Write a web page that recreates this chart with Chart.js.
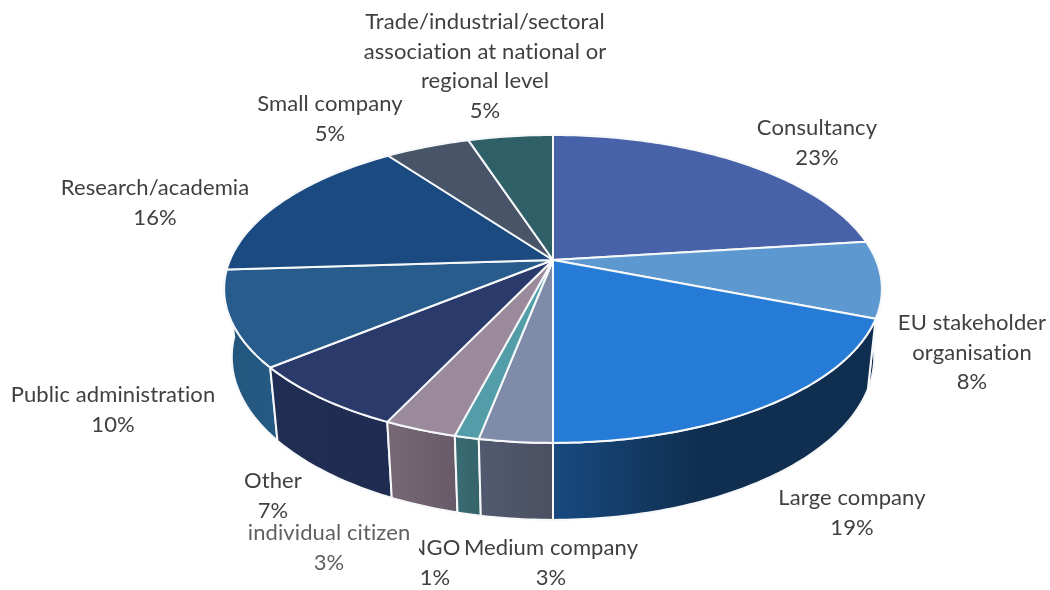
<!DOCTYPE html>
<html>
<head>
<meta charset="utf-8">
<style>
  html, body { margin: 0; padding: 0; background: #fff; }
  canvas { display: block; }
</style>
</head>
<body>
<canvas id="pie" width="1050" height="590"></canvas>
<script src="https://cdn.jsdelivr.net/npm/chart.js@4"></script>
<script>
// respondent types, clockwise from twelve o'clock
const categories = [
  "Consultancy", "EU stakeholder organisation", "Large company", "Medium company",
  "NGO", "individual citizen", "Other", "Public administration",
  "Research/academia", "Small company",
  "Trade/industrial/sectoral association at national or regional level"
];
const shares = [23, 8, 19, 3, 1, 3, 7, 10, 16, 5, 5];

const topColors = ["#4762a8", "#5e98d0", "#267bd6", "#7e8caa", "#529da8", "#9a8a9c",
                   "#2a3a6b", "#285c8c", "#1a4a80", "#485468", "#2f6068"];
// outer wall shading, left to right
const wallLeft  = ["#2b3c68", "#123050", "#174a80", "#525a70", "#3a6c74", "#766874",
                   "#212e54", "#22567e", "#123050", "#2f3846", "#1f4046"];
const wallRight = ["#2b3c68", "#0f2c4c", "#102e50", "#4a5060", "#346468", "#685a68",
                   "#1f2b50", "#255a84", "#123050", "#2f3846", "#1f4046"];

// label text broken into lines, and where each block is centred (first line y)
const labelLines = [
  ["Consultancy"], ["EU stakeholder", "organisation"], ["Large company"], ["Medium company"],
  ["NGO"], ["individual citizen"], ["Other"], ["Public administration"],
  ["Research/academia"], ["Small company"],
  ["Trade/industrial/sectoral", "association at national or", "regional level"]
];
const labelX = [817, 972, 852, 551, 435, 329, 273, 113, 155, 330, 485];
const labelY = [128, 323, 498, 548, 548, 533, 481, 395, 188, 104, 22];
const labelInk = ["#404040", "#404040", "#404040", "#404040", "#404040", "#606060",
                  "#404040", "#404040", "#404040", "#404040", "#404040"];
const lineGap = 29.5;

// perspective of the tilted disc: x/y radii, wall height, foreshortening
const rimX = 323, rimY = 148.5, wallH = 68.5, tiltK = -0.188, tiltZ = 0.023;

function project(el, angle, z) {
  const ux = Math.cos(angle), uy = Math.sin(angle);
  const w = 1 + tiltK * uy + tiltZ * z;
  return [el.x + rimX * ux / w, el.y + (rimY * uy + wallH * z) / w];
}

function rimPoints(el, z) {
  const n = Math.max(4, Math.ceil((el.endAngle - el.startAngle) * 60));
  const pts = [];
  for (let i = 0; i <= n; i++) {
    pts.push(project(el, el.startAngle + (el.endAngle - el.startAngle) * i / n, z));
  }
  return pts;
}

function tracePath(ctx, pts) {
  ctx.beginPath();
  pts.forEach((p, i) => (i ? ctx.lineTo(p[0], p[1]) : ctx.moveTo(p[0], p[1])));
  ctx.closePath();
}

// draws the pie's arc elements as a thick tilted disc instead of flat arcs
const tiltedDisc = {
  id: "tiltedDisc",
  beforeDatasetsDraw(chart) {
    const ctx = chart.ctx;
    const arcs = chart.getDatasetMeta(0).data;
    ctx.save();
    ctx.lineJoin = "round";

    // walls first, back slices before front ones
    const order = arcs.map((el, i) => i)
      .sort((a, b) => Math.sin((arcs[a].startAngle + arcs[a].endAngle) / 2)
                    - Math.sin((arcs[b].startAngle + arcs[b].endAngle) / 2));
    order.forEach((i) => {
      const el = arcs[i];
      const upper = rimPoints(el, 0), lower = rimPoints(el, 1).reverse();
      const xs = upper.concat(lower).map(p => p[0]);
      const grad = ctx.createLinearGradient(Math.min(...xs), 0, Math.max(...xs), 0);
      grad.addColorStop(0, wallLeft[i]);
      grad.addColorStop(i === 2 ? 0.45 : 1, wallRight[i]);
      grad.addColorStop(1, wallRight[i]);
      tracePath(ctx, upper.concat(lower));
      ctx.fillStyle = grad;
      ctx.fill();
      ctx.strokeStyle = el.options.borderColor;
      ctx.lineWidth = el.options.borderWidth;
      ctx.stroke();
    });

    // top faces
    arcs.forEach((el) => {
      tracePath(ctx, [[el.x, el.y]].concat(rimPoints(el, 0)));
      ctx.fillStyle = el.options.backgroundColor;
      ctx.fill();
      ctx.strokeStyle = el.options.borderColor;
      ctx.lineWidth = el.options.borderWidth;
      ctx.stroke();
    });
    ctx.restore();
    return false; // skip the default flat arcs
  },
  afterDraw(chart) {
    const ctx = chart.ctx;
    const vals = chart.data.datasets[0].data;
    const total = vals.reduce((a, b) => a + b, 0);
    ctx.save();
    ctx.font = '22px Lato, "Open Sans", sans-serif';
    ctx.letterSpacing = "0.1px"; // keeps Lato from joining "ti" into a ligature
    ctx.textAlign = "center";
    ctx.textBaseline = "middle";
    // NGO goes first: the box behind the citizen label trims its left edge
    const seq = [4, 5, 0, 1, 2, 3, 6, 7, 8, 9, 10];
    seq.forEach((i) => {
      if (i === 5) {
        ctx.fillStyle = "#fff";
        ctx.fillRect(244, 520, 175, 14 + lineGap);
      }
      const lines = labelLines[i].concat(Math.round(vals[i] / total * 100) + "%");
      ctx.fillStyle = labelInk[i];
      lines.forEach((t, k) => ctx.fillText(t, labelX[i], labelY[i] + k * lineGap));
    });
    ctx.restore();
  }
};

new Chart(document.getElementById("pie"), {
  type: "pie",
  data: {
    labels: categories,
    datasets: [{
      data: shares,
      backgroundColor: topColors,
      borderColor: "#f6f8fa",
      borderWidth: 2
    }]
  },
  options: {
    responsive: false,
    animation: false,
    layout: { padding: { left: 56, bottom: 70 } },
    plugins: { legend: { display: false }, tooltip: { enabled: false } }
  },
  plugins: [tiltedDisc]
});
</script>
</body>
</html>
